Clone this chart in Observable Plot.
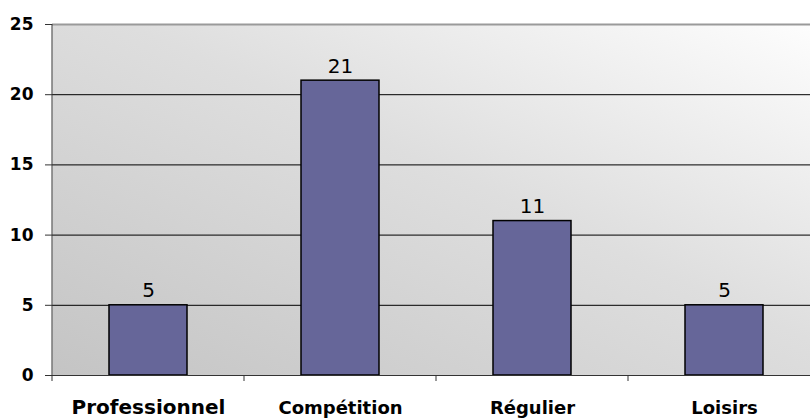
<!DOCTYPE html>
<html><head><meta charset="utf-8">
<script src="https://cdn.jsdelivr.net/npm/d3@7"></script>
<script src="https://cdn.jsdelivr.net/npm/@observablehq/plot@0.6"></script>
<style>body{margin:0;background:#fff}</style>
</head><body><div id="chart"></div>
<script>
const categories = ["Professionnel", "Compétition", "Régulier", "Loisirs"];
const values = [5, 21, 11, 5];
const yTicks = [0, 5, 10, 15, 20, 25];

const data = categories.map((c, i) => ({category: c, value: values[i]}));

const chart = Plot.plot({
  width: 810, height: 419,
  marginLeft: 52, marginRight: 0, marginTop: 24, marginBottom: 44,
  style: {fontFamily: "DejaVu Sans", background: "white", color: "#000", overflow: "visible"},
  x: {domain: categories, range: [52, 820], paddingInner: 0, paddingOuter: 0, axis: null},
  y: {domain: [0, 25], axis: null},
  marks: [
    Plot.frame({fill: "#d8d8d8", stroke: "none"}),
    Plot.ruleY(yTicks.filter(t => t > 0 && t < 25), {stroke: "#000", strokeWidth: 1}),
    Plot.ruleY([25], {stroke: "#9a9a9a", strokeWidth: 2}),
    Plot.barY(data, {x: "category", y: "value", fill: "#666699", stroke: "#000", strokeWidth: 1.5, insetLeft: 57, insetRight: 57}),
    Plot.ruleY([0], {stroke: "#333", strokeWidth: 1}),
    Plot.axisY({ticks: yTicks, tickSize: 7, tickPadding: 12, fontSize: 17, fontWeight: "bold", stroke: "#333", label: null}),
    Plot.text(data, {x: "category", y: "value", text: d => String(d.value), dy: -8, lineAnchor: "bottom", fontSize: 20, fill: "#000"}),
    Plot.text(data, {x: "category", y: 0, text: "category", dy: 38, lineAnchor: "bottom", fontWeight: "bold", fill: "#000",
      fontSize: d => d.category === categories[0] ? 20 : 18})
  ]
});

document.getElementById("chart").appendChild(chart);

// background gradient and axis lines drawn from the scales
const svg = d3.select(chart.tagName === "svg" ? chart : chart.querySelector("svg"));
const defs = svg.insert("defs", ":first-child");
const g = defs.append("linearGradient").attr("id", "bg").attr("x1", 0).attr("y1", 1).attr("x2", 1).attr("y2", 0);
g.append("stop").attr("offset", "0%").attr("stop-color", "#c4c4c4");
g.append("stop").attr("offset", "55%").attr("stop-color", "#dedede");
g.append("stop").attr("offset", "100%").attr("stop-color", "#fdfdfd");
svg.selectAll('rect[aria-label="frame"], g[aria-label="frame"] rect').attr("fill", "url(#bg)");

const xs = chart.scale("x"), ys = chart.scale("y");
const x0 = xs.range[0];
const y0 = ys.apply(0), yTop = ys.apply(25);
const axes = svg.append("g").attr("stroke", "#333").attr("stroke-width", 1);
axes.append("line").attr("x1", x0).attr("x2", x0).attr("y1", yTop).attr("y2", y0 + 6);
categories.slice(1).forEach(c => {
  const xb = xs.apply(c);
  axes.append("line").attr("x1", xb).attr("x2", xb).attr("y1", y0).attr("y2", y0 + 6);
});
</script>
</body></html>
